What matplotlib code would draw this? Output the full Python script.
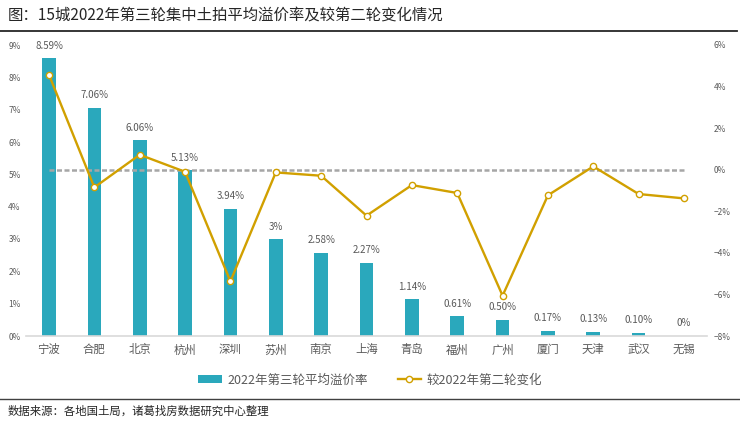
import matplotlib
matplotlib.use("Agg")
import matplotlib.pyplot as plt
from matplotlib.lines import Line2D
import numpy as np

plt.rcParams['font.family'] = ['Noto Sans CJK SC', 'DejaVu Sans']
plt.rcParams['axes.unicode_minus'] = True

cities = ["宁波", "合肥", "北京", "杭州", "深圳", "苏州", "南京", "上海", "青岛",
          "福州", "广州", "厦门", "天津", "武汉", "无锡"]
premium = [8.59, 7.06, 6.06, 5.13, 3.94, 3.00, 2.58, 2.27, 1.14, 0.61, 0.50,
           0.17, 0.13, 0.10, 0.00]
premium_labels = ["8.59%", "7.06%", "6.06%", "5.13%", "3.94%", "3%", "2.58%",
                  "2.27%", "1.14%", "0.61%", "0.50%", "0.17%", "0.13%", "0.10%", "0%"]
change = [4.57, -0.85, 0.72, -0.10, -5.37, -0.13, -0.29, -2.21, -0.74, -1.12,
          -6.06, -1.23, 0.16, -1.17, -1.38]
left_ticks = list(range(0, 10))
right_ticks = list(range(-8, 7, 2))

bar_name = "2022年第三轮平均溢价率"
line_name = "较2022年第二轮变化"
title = "图：15城2022年第三轮集中土拍平均溢价率及较第二轮变化情况"
source = "数据来源：各地国土局，诸葛找房数据研究中心整理"

BAR = "#2AA8BC"
GOLD = "#D1A000"
TXT = "#595959"

fig = plt.figure(figsize=(7.4, 4.21), dpi=100)
ax = fig.add_axes([26.3 / 740, 1 - 336 / 421, (706.7 - 26.3) / 740, (336 - 45) / 421])
x = np.arange(len(cities))

ax.bar(x, premium, width=0.3, color=BAR, label=bar_name, zorder=2)
for xi, v, lab in zip(x, premium, premium_labels):
    ax.annotate(lab, (xi, v), xytext=(0, 9), textcoords="offset points",
                ha="center", va="center", fontsize=7, color=TXT)

ax.set_xlim(-0.5, len(cities) - 0.5)
ax.set_ylim(0, 9)
ax.set_yticks(left_ticks)
ax.set_yticklabels([f"{t}%" for t in left_ticks])
ax.set_xticks(x)
ax.set_xticklabels(cities, fontsize=8.2, color=TXT)
ax.tick_params(axis="y", length=0, pad=4, labelsize=6, labelcolor=TXT)
ax.tick_params(axis="x", length=0, pad=6)
for s in ["top", "right", "left"]:
    ax.spines[s].set_visible(False)
ax.spines["bottom"].set_color("#D9D9D9")
ax.spines["bottom"].set_linewidth(1.2)

ax2 = ax.twinx()
ax2.hlines(0, x[0], x[-1], colors="#A6A6A6", linewidth=1.8,
           linestyles=(0, (2.0, 1.0)), zorder=1)
ax2.plot(x, change, color=GOLD, linewidth=1.7, marker="o", markersize=4.5,
         markerfacecolor="white", markeredgecolor=GOLD, markeredgewidth=1.0,
         label=line_name, zorder=3)
ax2.set_ylim(-8, 6)
ax2.set_yticks(right_ticks)
ax2.set_yticklabels([f"{t}%".replace("-", "\u2212") for t in right_ticks])
ax2.tick_params(axis="y", length=0, pad=5, labelsize=6, labelcolor=TXT)
for s in ["top", "right", "left", "bottom"]:
    ax2.spines[s].set_visible(False)

h1, l1 = ax.get_legend_handles_labels()
h2, l2 = ax2.get_legend_handles_labels()
fig.legend(h1 + h2, l1 + l2, loc="center", bbox_to_anchor=(0.5, 1 - 380 / 421),
           ncol=2, frameon=False, fontsize=9, handlelength=1.9, handleheight=0.6,
           handletextpad=0.4, columnspacing=2.4, labelcolor=TXT)

fig.text(8 / 740, 1 - 15 / 421, title, fontsize=11.1, fontweight="normal",
         color="#262626", va="center", ha="left")
fig.add_artist(Line2D([0, 737 / 740], [1 - 31 / 421] * 2, color="#262626",
                      linewidth=1.3, transform=fig.transFigure))
fig.add_artist(Line2D([0, 1], [1 - 399 / 421] * 2, color="#404040",
                      linewidth=1.0, transform=fig.transFigure))
fig.text(8 / 740, 1 - 411 / 421, source, fontsize=8.2, color="#262626",
         va="center", ha="left")

fig.savefig("out.png", dpi=100)
